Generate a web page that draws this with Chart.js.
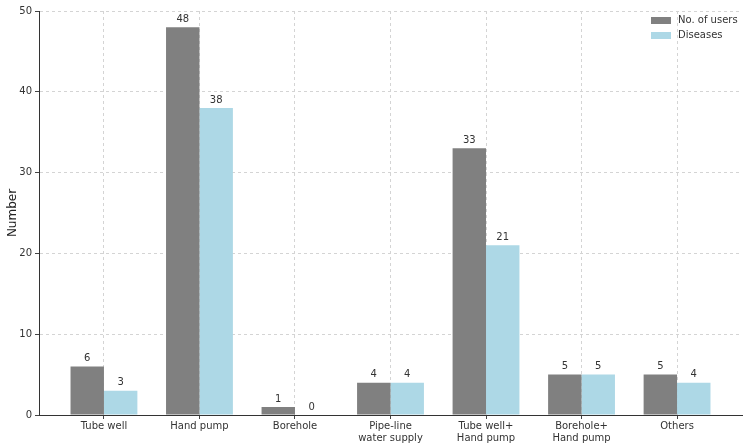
<!DOCTYPE html>
<html>
<head>
<meta charset="utf-8">
<script src="https://cdn.jsdelivr.net/npm/chart.js@4.4.0/dist/chart.umd.min.js"></script>
<style>
  html, body { margin: 0; padding: 0; background: #fff; }
  #wrap { width: 750px; height: 446px; }
</style>
</head>
<body>
<div id="wrap"><canvas id="chart_sources"></canvas></div>
<script>
// data
var categories = ['Tube well', 'Hand pump', 'Borehole', ['Pipe-line', 'water supply'],
                  ['Tube well+', 'Hand pump'], ['Borehole+', 'Hand pump'], 'Others']
var users = [6, 48, 1, 4, 33, 5, 5]
var diseases = [3, 38, 0, 4, 21, 5, 4]
var yTicks = [0, 10, 20, 30, 40, 50]
var seriesNames = ['No. of users', 'Diseases']
var cores = ['#808080', '#add8e6']

Chart.defaults.font.family = 'DejaVu Sans'
Chart.defaults.font.size = 10
Chart.defaults.color = '#333'

function toPoints(arr) {
    return arr.map(function(v, i){ return {x: i, y: v} })
}

// numbers on top of bars
var barLabels = {
    id: 'barLabels',
    afterDatasetsDraw: function(chart) {
        var ctx = chart.ctx
        ctx.save()
        ctx.font = '10px DejaVu Sans'
        ctx.fillStyle = '#333'
        ctx.textAlign = 'center'
        ctx.textBaseline = 'bottom'
        chart.data.datasets.forEach(function(ds, di) {
            chart.getDatasetMeta(di).data.forEach(function(bar, i) {
                ctx.fillText(String(ds.data[i].y), bar.x, bar.y - 3)
            })
        })
        ctx.restore()
    }
}

// legend inside the plot, top right
var insideLegend = {
    id: 'insideLegend',
    afterDraw: function(chart) {
        var ctx = chart.ctx
        var area = chart.chartArea
        ctx.save()
        ctx.font = '10px DejaVu Sans'
        ctx.textBaseline = 'middle'
        ctx.textAlign = 'left'
        chart.data.datasets.forEach(function(ds, i) {
            var y = area.top + 9 + i * 15
            ctx.fillStyle = ds.backgroundColor
            ctx.fillRect(area.right - 91, y - 3, 20, 7)
            ctx.fillStyle = '#333'
            ctx.fillText(ds.label, area.right - 64, y + 0.5)
        })
        ctx.restore()
    }
}

var ctx = document.getElementById('chart_sources')

var chartSources = new Chart(ctx, {
    type: 'bar',
    data: {
        datasets: [
            { label: seriesNames[0], data: toPoints(users), backgroundColor: cores[0],
              categoryPercentage: 0.7, barPercentage: 1.0 },
            { label: seriesNames[1], data: toPoints(diseases), backgroundColor: cores[1],
              categoryPercentage: 0.7, barPercentage: 1.0 }
        ]
    },
    options: {
        responsive: true,
        maintainAspectRatio: false,
        animation: false,
        layout: { padding: { top: 11, right: 8, left: 0, bottom: 0 } },
        plugins: {
            legend: { display: false },
            tooltip: { enabled: false }
        },
        scales: {
            x: {
                type: 'linear',
                offset: false,
                min: -0.68,
                max: 6.68,
                afterBuildTicks: function(scale) {
                    scale.ticks = categories.map(function(c, i){ return {value: i} })
                },
                afterFit: function(scale) { scale.height = 31 },
                ticks: {
                    autoSkip: false,
                    maxRotation: 0,
                    padding: 1,
                    color: '#333',
                    callback: function(value) { return categories[value] }
                },
                grid: {
                    offset: false,
                    color: '#d4d4d4',
                    tickColor: '#444',
                    tickLength: 4,
                    tickBorderDash: []
                },
                border: { display: true, color: '#333', width: 1, dash: [3, 3] }
            },
            y: {
                min: 0,
                max: 50,
                afterBuildTicks: function(scale) {
                    scale.ticks = yTicks.map(function(v){ return {value: v} })
                },
                afterFit: function(scale) { scale.width = 39 },
                title: { display: true, text: 'Number', color: '#222', font: { size: 12 }, padding: { top: 6, bottom: 0 } },
                ticks: { color: '#333', padding: 3 },
                grid: {
                    color: '#d4d4d4',
                    tickColor: '#444',
                    tickLength: 4,
                    tickBorderDash: []
                },
                border: { display: true, color: '#333', width: 1, dash: [3, 3] }
            }
        }
    },
    plugins: [barLabels, insideLegend]
});
</script>
</body>
</html>
